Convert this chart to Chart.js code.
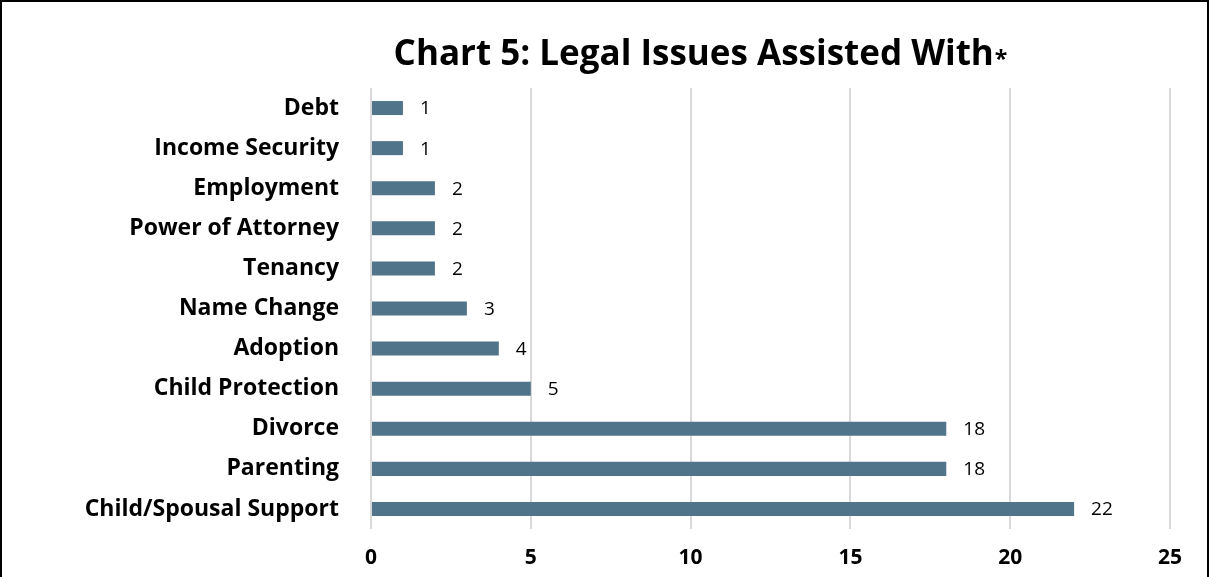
<!DOCTYPE html>
<html>
<head>
<meta charset="utf-8">
<script src="https://cdn.jsdelivr.net/npm/chart.js@4.4.0/dist/chart.umd.min.js"></script>
<style>
  html, body { margin: 0; padding: 0; background: #fff; }
  #wrap { width: 1211px; height: 577px; position: relative; }
</style>
</head>
<body>
<div id="wrap"><canvas id="issuesChart" width="1211" height="577"></canvas></div>
<script>
const categories = ['Debt', 'Income Security', 'Employment', 'Power of Attorney', 'Tenancy',
  'Name Change', 'Adoption', 'Child Protection', 'Divorce', 'Parenting', 'Child/Spousal Support'];
const counts = [1, 1, 2, 2, 2, 3, 4, 5, 18, 18, 22];
const xTicks = [0, 5, 10, 15, 20, 25];
const titleText = 'Chart 5: Legal Issues Assisted With';
const titleMark = '*';

const FONT = "'Open Sans', 'Noto Sans', sans-serif";

// title, border and value labels drawn on the canvas
const extras = {
  id: 'extras',
  afterDraw(chart) {
    const ctx = chart.ctx;
    ctx.save();
    ctx.strokeStyle = '#000';
    ctx.lineWidth = 2;
    ctx.strokeRect(1, 1, 1207, 700);

    ctx.fillStyle = '#000';
    ctx.textBaseline = 'alphabetic';
    ctx.font = 'bold 35px ' + FONT;
    const w1 = ctx.measureText(titleText).width;
    ctx.font = 'bold 23px ' + FONT;
    const w2 = ctx.measureText(titleMark).width;
    let x = 700 - (w1 + w2) / 2;
    ctx.font = 'bold 35px ' + FONT;
    ctx.textAlign = 'left';
    ctx.fillText(titleText, x, 65);
    ctx.font = 'bold 23px ' + FONT;
    ctx.fillText(titleMark, x + w1 + 1, 67);

    const meta = chart.getDatasetMeta(0);
    ctx.font = '19px ' + FONT;
    ctx.textBaseline = 'middle';
    meta.data.forEach((bar, i) => {
      ctx.fillText(String(counts[i]), bar.x + 17, bar.y + 1);
    });
    ctx.restore();
  }
};

new Chart(document.getElementById('issuesChart').getContext('2d'), {
  type: 'bar',
  data: {
    labels: categories,
    datasets: [{
      data: counts,
      backgroundColor: '#50758a',
      barPercentage: 0.7,
      categoryPercentage: 0.5
    }]
  },
  options: {
    indexAxis: 'y',
    responsive: false,
    animation: false,
    layout: { padding: { top: 88, right: 41, left: 0, bottom: 0 } },
    plugins: { legend: { display: false }, tooltip: { enabled: false }, title: { display: false } },
    scales: {
      x: {
        min: 0, max: 25,
        afterBuildTicks: s => { s.ticks = xTicks.map(v => ({ value: v })); },
        afterFit: s => { s.height = 48; },
        grid: { color: '#d9d9d9', lineWidth: 2, drawTicks: false },
        border: { display: false },
        ticks: { color: '#000', font: { family: FONT, size: 21, weight: 'bold' }, padding: 16 }
      },
      y: {
        afterFit: s => { s.width = 371; },
        grid: { display: false, drawTicks: false },
        border: { display: false },
        ticks: { color: '#000', font: { family: FONT, size: 23, weight: 'bold' }, padding: 32 }
      }
    }
  },
  plugins: [extras]
});
</script>
</body>
</html>
